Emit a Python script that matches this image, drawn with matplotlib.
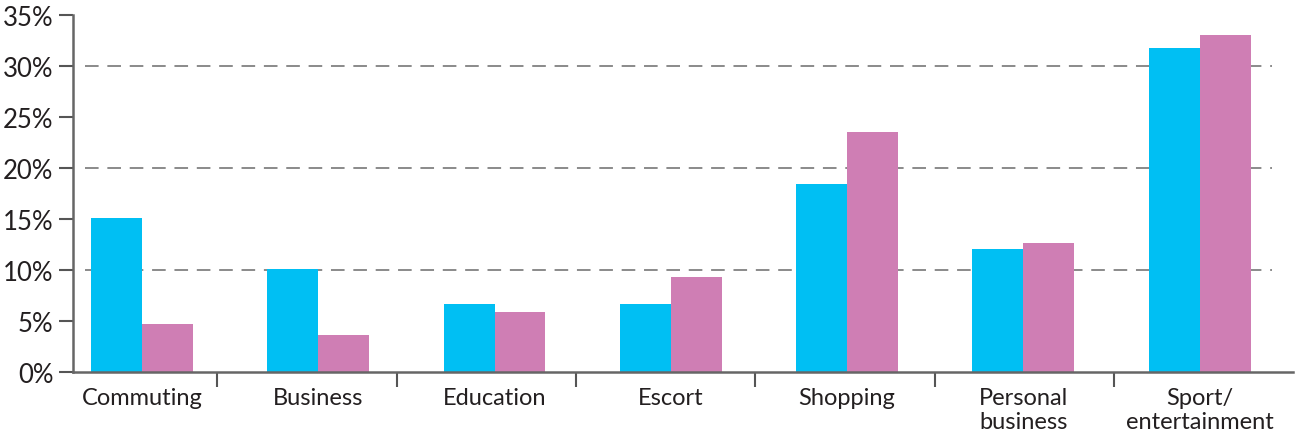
import numpy as np
from matplotlib import pyplot as plt
from matplotlib.ticker import FixedLocator

# Données
categories = ['Commuting', 'Business', 'Education', 'Escort', 'Shopping',
              'Personal\nbusiness', 'Sport/\nentertainment']
serie_bleue = [15.1, 10.1, 6.7, 6.7, 18.4, 12.1, 31.8]
serie_rose = [4.7, 3.6, 5.9, 9.3, 23.5, 12.6, 33.0]
yticks = [0, 5, 10, 15, 20, 25, 30, 35]
ylabels = ['0%', '5%', '10%', '15%', '20%', '25%', '30%', '35%']
grilles = [10, 20, 30]

bleu = '#00BFF3'
rose = '#CF7EB4'
texte = '#231F20'

plt.rcParams['font.family'] = ['Lato', 'DejaVu Sans']

fig = plt.figure(figsize=(12.95, 4.39), dpi=100)
ax = fig.add_axes([73/1295, 66/439, 1220/1295, 357/439])

x = np.arange(len(categories))
w = 0.289
ax.bar(x - w/2, serie_bleue, w, color=bleu, zorder=3)
ax.bar(x + w/2, serie_rose, w, color=rose, zorder=3)

# lignes de grille en tirets
for g in grilles:
    ax.axhline(g, xmin=0.01, xmax=0.983, color='#8a8a8a', lw=1.4,
               dashes=(7, 4.5), zorder=1)

ax.set_xlim(-0.391, 6.529)
ax.set_ylim(0, 35)

ax.set_yticks(yticks)
ax.set_yticklabels(ylabels, fontsize=18.5, color=texte)
ax.tick_params(axis='y', length=10, width=1.5, color='#555555', pad=4)

ax.set_xticks(x)
ax.set_xticklabels(categories, fontsize=17, color=texte, linespacing=1.15)
ax.tick_params(axis='x', which='major', length=0, pad=11)
# séparateurs entre catégories
sep = 0.428 + 1.017*np.arange(7)
ax.xaxis.set_minor_locator(FixedLocator(sep))
ax.tick_params(axis='x', which='minor', length=11, width=1.5, color='#555555')

for s in ['top', 'right']:
    ax.spines[s].set_visible(False)
for s in ['left', 'bottom']:
    ax.spines[s].set_color('#666666')
    ax.spines[s].set_linewidth(1.8)
    ax.spines[s].set_zorder(4)

fig.savefig('out.png', dpi=100)
